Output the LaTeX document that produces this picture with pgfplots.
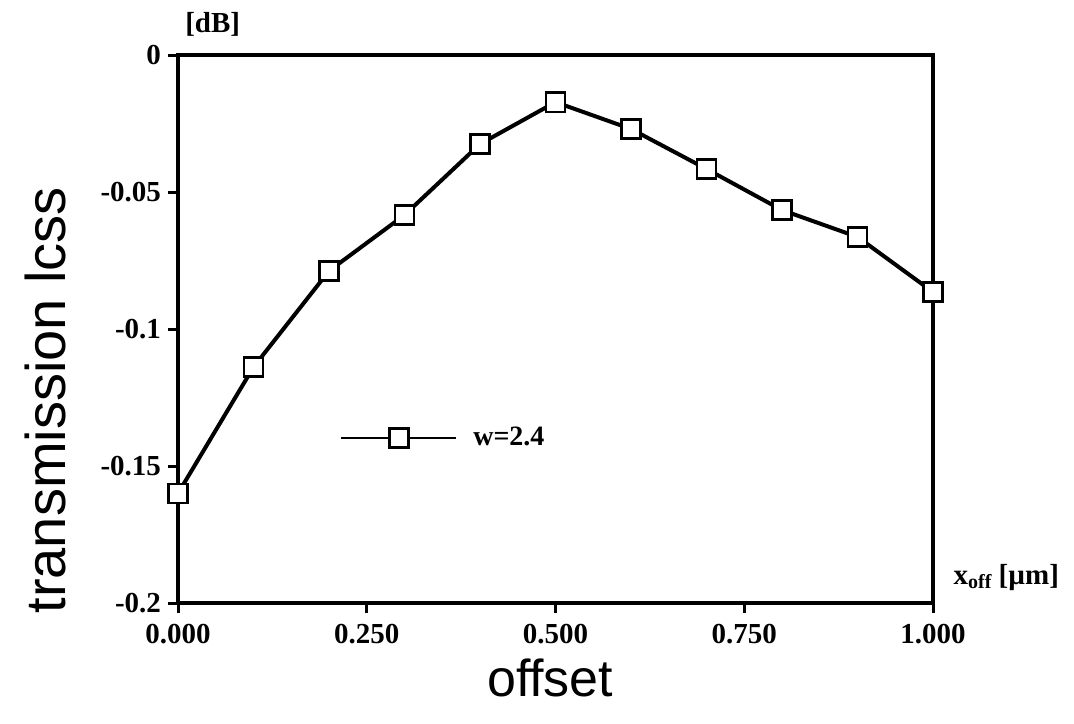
\documentclass[border=0pt]{standalone}
\usepackage{pgfplots}
\pgfplotsset{compat=1.18}
\usepackage{fontspec}
\setmainfont{Liberation Serif}
\newfontfamily\lsans{Liberation Sans}
\begin{document}
\begin{tikzpicture}
\useasboundingbox (-89pt,-60pt) rectangle (448pt,301.5pt);
\begin{axis}[
  scale only axis,
  width=377.5pt, height=274pt,
  xmin=0, xmax=1, ymin=-0.2, ymax=0,
  axis line style={line width=2pt},
  xtick={0,0.25,0.5,0.75,1},
  xticklabels={0.000,0.250,0.500,0.750,1.000},
  ytick={-0.2,-0.15,-0.1,-0.05,0},
  yticklabels={-0.2,-0.15,-0.1,-0.05,0},
  tick align=outside,
  major tick length=5pt,
  tick style={line width=1.5pt, black},
  xtick pos=bottom, ytick pos=left,
  tick label style={font=\fontsize{14.5}{16}\selectfont\bfseries},
  xticklabel style={yshift=-2pt},
  xlabel={\lsans\fontsize{26}{28}\selectfont offset},
  xlabel style={at={(axis description cs:0.493,-0.137)}, anchor=center},
  ylabel={\lsans\fontsize{28}{30}\selectfont transmission lcss},
  ylabel style={at={(axis description cs:-0.176,0.37)}, anchor=center, rotate=0},
  legend style={draw=none, fill=none, at={(axis description cs:0.207,0.301)}, anchor=west,
    font=\fontsize{14}{16}\selectfont\bfseries},
  legend cell align=left,
  legend image code/.code={\draw[#1, line width=0.8pt, mark=none] (0pt,0pt) -- (57.5pt,0pt);
    \draw[#1, only marks] plot coordinates {(28.75pt,0pt)};},
  clip=false,
]
\addplot[black, line width=2pt, mark=square*, mark size=4.8pt,
  mark options={fill=white, line width=1.2pt, solid}]
  coordinates {
  (0.0,-0.160) (0.1,-0.1139) (0.2,-0.0788) (0.3,-0.0584) (0.4,-0.0325)
  (0.5,-0.0172) (0.6,-0.0270) (0.7,-0.0416) (0.8,-0.0566) (0.9,-0.0664)
  (1.0,-0.0865)};
\addlegendentry{\hspace{6pt}w=2.4}
\node[anchor=center, font=\fontsize{14.5}{16}\selectfont\bfseries] at (axis description cs:0.046,1.055) {[dB]};
\node[anchor=west, font=\fontsize{14.5}{16}\selectfont\bfseries] at (axis description cs:1.018,0.047) {x\raisebox{-0.35ex}{\fontsize{10}{12}\selectfont off} [µm]};
\end{axis}
\end{tikzpicture}
\end{document}
